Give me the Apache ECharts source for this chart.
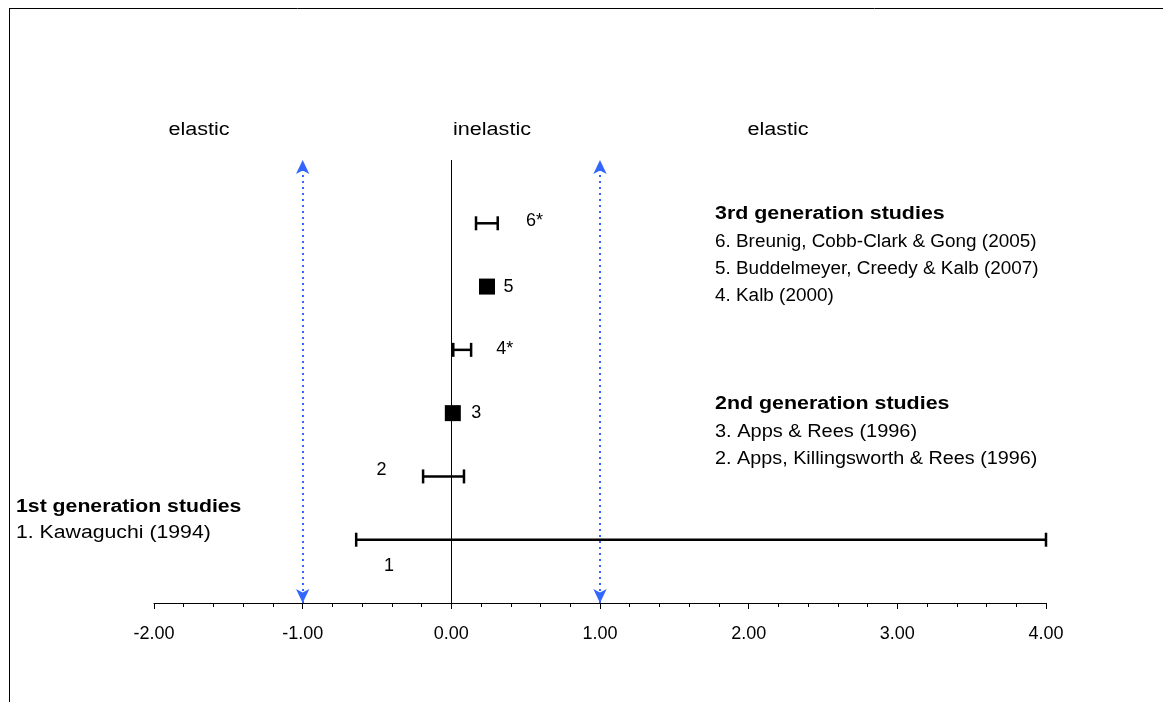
<!DOCTYPE html>
<html lang="en">
<head>
	<meta charset="UTF-8">
	<title>Elasticity studies</title>
	<script src="https://cdn.jsdelivr.net/npm/echarts@6/dist/echarts.min.js"></script>
	<style>
		body{ margin:0; background:#fff; }
	</style>
</head>
<body>
	<div id="main" style="width:1163px;height:702px;"></div>
<script type="text/javascript">
// study rows (y position = study number)
var studyRow = [6, 4, 2, 1];
var lowVal = [0.166, 0.013, -0.19, -0.64];
var highVal = [0.312, 0.133, 0.085, 4.0];

// point estimates
var pointRow = [5, 3];
var pointVal = [0.24, 0.01];

// labels next to the marks
var labelText = ['6*', '5', '4*', '3', '2', '1'];
var labelX = [0.56, 0.385, 0.36, 0.168, -0.47, -0.42];
var labelY = [6.03, 5, 4.02, 3, 2.1, 0.58];

var xTicks = [-2, -1, 0, 1, 2, 3, 4];
var font = '"Liberation Sans", Arial, sans-serif';

function txt(s, x, y, bold, sx, align) {
	return {
		type: 'text', x: x, y: y, scaleX: sx,
		style: { text: s, fill: '#000', font: (bold ? 'bold ' : '') + '18px ' + font,
			align: align || 'left', verticalAlign: 'middle' }
	};
}

var chart = echarts.init(document.getElementById('main'));

var option = {
	animation: false,
	textStyle: { fontFamily: font },
	grid: { left: 154, right: 117, top: 160, bottom: 99 },
	xAxis: {
		type: 'value', min: xTicks[0], max: xTicks[xTicks.length - 1], interval: 1,
		axisLine: { lineStyle: { color: '#000', width: 1 } },
		axisTick: { length: 6, lineStyle: { color: '#000' } },
		minorTick: { show: true, splitNumber: 5, length: 4, lineStyle: { color: '#000' } },
		splitLine: { show: false },
		axisLabel: { color: '#000', fontSize: 18, margin: 22, fontFamily: font,
			formatter: function (v) { return v.toFixed(2); } }
	},
	yAxis: { type: 'value', min: 0, max: 7, show: false },
	series: [
		{
			type: 'custom',
			data: studyRow.map(function (r, i) { return [lowVal[i], highVal[i], r]; }),
			renderItem: function (params, api) {
				var a = api.coord([api.value(0), api.value(2)]);
				var b = api.coord([api.value(1), api.value(2)]);
				var h = 7;
				var st = { stroke: '#000', lineWidth: 2.5 };
				return {
					type: 'group', children: [
						{ type: 'line', shape: { x1: a[0], y1: a[1], x2: b[0], y2: b[1] }, style: st },
						{ type: 'line', shape: { x1: a[0], y1: a[1] - h, x2: a[0], y2: a[1] + h }, style: st },
						{ type: 'line', shape: { x1: b[0], y1: b[1] - h, x2: b[0], y2: b[1] + h }, style: st }
					]
				};
			},
			markLine: {
				silent: true, symbol: 'none', label: { show: false },
				lineStyle: { color: '#000', width: 1, type: 'solid' },
				data: [[{ coord: [0, 0] }, { coord: [0, 7] }]]
			}
		},
		{
			type: 'scatter',
			symbol: 'rect', symbolSize: 16,
			itemStyle: { color: '#000', opacity: 1 },
			data: pointRow.map(function (r, i) { return [pointVal[i], r]; }),
			markLine: {
				silent: true, symbol: ['arrow', 'arrow'], symbolSize: [10, 14],
				label: { show: false },
				lineStyle: { color: '#3366ff', width: 2, type: [2, 4] },
				itemStyle: { color: '#3366ff' },
				data: [
					[{ coord: [-1, 0] }, { coord: [-1, 7] }],
					[{ coord: [1, 0] }, { coord: [1, 7] }]
				]
			}
		},
		{
			type: 'scatter',
			symbolSize: 1,
			itemStyle: { color: 'rgba(0,0,0,0)', opacity: 1 },
			data: labelText.map(function (t, i) { return [labelX[i], labelY[i], t]; }),
			label: {
				show: true, position: 'inside', color: '#000', opacity: 1, fontSize: 18, fontFamily: font,
				formatter: function (p) { return p.value[2]; }
			}
		}
	],
	graphic: [
		{ type: 'line', shape: { x1: 9, y1: 8.5, x2: 1163, y2: 8.5 }, style: { stroke: '#000', lineWidth: 1 } },
		{ type: 'line', shape: { x1: 9.5, y1: 8, x2: 9.5, y2: 702 }, style: { stroke: '#000', lineWidth: 1 } },
		txt('elastic', 199, 130, false, 1.2, 'center'),
		txt('inelastic', 492, 130, false, 1.2, 'center'),
		txt('elastic', 778, 130, false, 1.2, 'center'),
		txt('3rd generation studies', 715, 214, true, 1.19),
		txt('6. Breunig, Cobb-Clark & Gong (2005)', 715, 242, false, 1.05),
		txt('5. Buddelmeyer, Creedy & Kalb (2007)', 715, 269, false, 1.05),
		txt('4. Kalb (2000)', 715, 296, false, 1.05),
		txt('2nd generation studies', 715, 404, true, 1.19),
		txt('3. Apps & Rees (1996)', 715, 432, false, 1.11),
		txt('2. Apps, Killingsworth & Rees (1996)', 715, 459, false, 1.1),
		txt('1st generation studies', 16, 507, true, 1.18),
		txt('1. Kawaguchi (1994)', 16, 533, false, 1.18)
	]
};
chart.setOption(option);
</script>
</body>
</html>
